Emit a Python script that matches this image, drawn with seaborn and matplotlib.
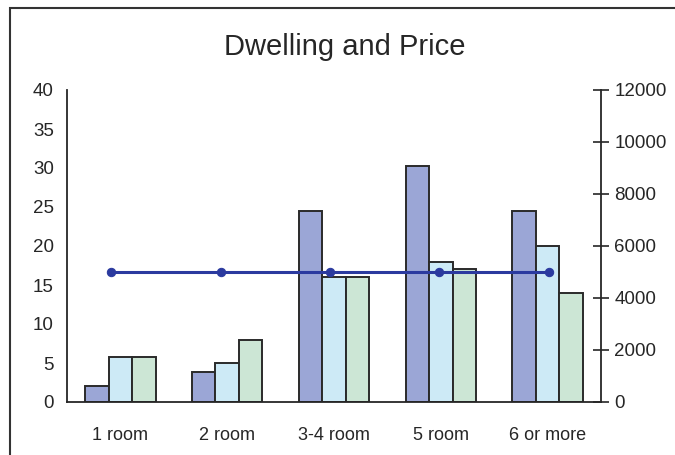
import matplotlib
matplotlib.use("Agg")
import matplotlib.pyplot as plt
import seaborn as sns
import pandas as pd
from matplotlib.patches import Rectangle
from matplotlib.ticker import MultipleLocator, FixedLocator, NullFormatter

# Data
categories = ["1 room", "2 room", "3-4 room", "5 room", "6 or more"]
series_names = ["Share A", "Share B", "Share C"]
share_a = [2.0, 3.8, 24.5, 30.3, 24.5]
share_b = [5.8, 5.0, 16.0, 18.0, 20.0]
share_c = [5.8, 8.0, 16.0, 17.0, 14.0]
price = [5000, 5000, 5000, 5000, 5000]

bar_colors = ["#9ba6d6", "#cdeaf6", "#cce6d5"]
line_color = "#2b3a9f"
ink = "#262626"

df = pd.DataFrame({
    "category": categories * 3,
    "series": sum([[n] * len(categories) for n in series_names], []),
    "value": share_a + share_b + share_c,
})

sns.set_theme(style="white")
plt.rcParams["font.family"] = ["Liberation Sans", "DejaVu Sans"]

fig = plt.figure(figsize=(6.75, 4.55), dpi=100)
rect = [67 / 675, 1 - 402 / 455, (601 - 67) / 675, (402 - 90) / 455]
ax = fig.add_axes(rect)

sns.barplot(data=df, x="category", y="value", hue="series", palette=bar_colors,
            width=0.66, saturation=1, edgecolor="#2a2a2a", linewidth=1.4,
            legend=False, ax=ax)

ax.set_xlim(-0.5, len(categories) - 0.5)
ax.set_ylim(0, 40)
ax.set_xlabel("")
ax.set_ylabel("")
ax.yaxis.set_major_locator(MultipleLocator(5))
ax.tick_params(axis="y", direction="inout", length=11, width=1.2, color=ink,
               labelsize=13.5, labelcolor=ink, pad=4)
# category labels centred, tick marks on the group boundaries
ax.tick_params(axis="x", which="major", length=0, labelsize=13, labelcolor=ink, pad=18)
ax.xaxis.set_minor_locator(FixedLocator([i - 0.5 for i in range(len(categories) + 1)]))
ax.xaxis.set_minor_formatter(NullFormatter())
ax.tick_params(axis="x", which="minor", direction="inout", length=14, width=1.2, color=ink)
for side in ["top", "right"]:
    ax.spines[side].set_visible(False)
for side in ["left", "bottom"]:
    ax.spines[side].set_color(ink)
    ax.spines[side].set_linewidth(1.3)

# Price line on its own right-hand scale
ax2 = fig.add_axes(rect)
ax2.patch.set_visible(False)
sns.lineplot(x=list(range(len(price))), y=price, ax=ax2, color=line_color,
             linewidth=2.2, marker="o", markersize=6,
             markeredgecolor=line_color, markerfacecolor=line_color)
ax2.set_xlim(-0.402, 4.475)
ax2.set_ylim(0, 12000)
ax2.yaxis.set_major_locator(MultipleLocator(2000))
ax2.yaxis.tick_right()
ax2.xaxis.set_visible(False)
ax2.tick_params(axis="y", direction="inout", length=11, width=1.2, color=ink,
                labelsize=13.5, labelcolor=ink, pad=4)
for side in ["top", "left", "bottom"]:
    ax2.spines[side].set_visible(False)
ax2.spines["right"].set_color(ink)
ax2.spines["right"].set_linewidth(1.3)

fig.text(0.51, 1 - 47 / 455, "Dwelling and Price", ha="center", va="center",
         fontsize=21, color=ink)

# Chart frame
fig.patches.append(Rectangle((10 / 675, -0.5), 2.0, 0.5 + 1 - 8 / 455,
                             transform=fig.transFigure, fill=False,
                             edgecolor="#333333", linewidth=1.5))

fig.savefig("out.png", dpi=100)
